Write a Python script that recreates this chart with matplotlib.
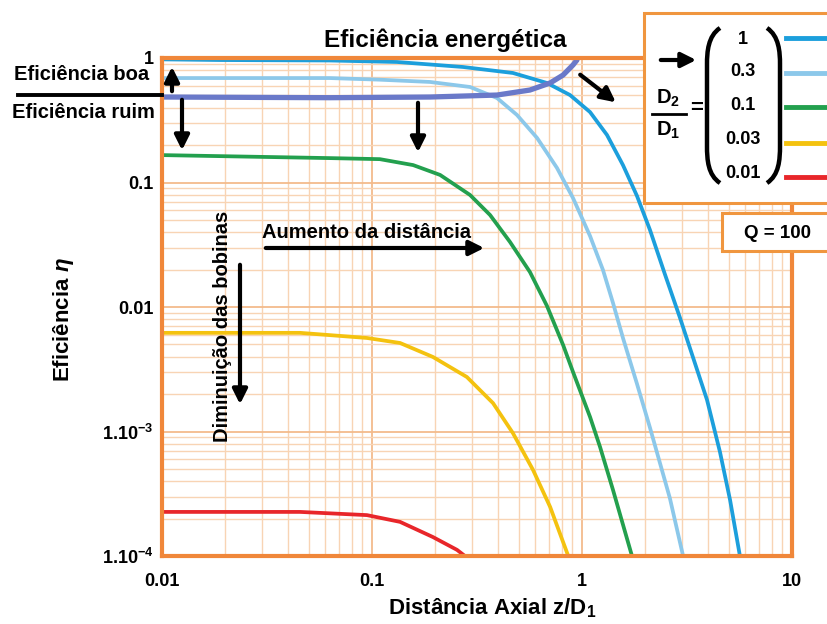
import matplotlib
matplotlib.use("Agg")
import matplotlib.pyplot as plt
from matplotlib.path import Path
import matplotlib.patches as patches

plt.rcParams['font.family'] = 'Liberation Sans'
plt.rcParams['font.weight'] = 'bold'
plt.rcParams['mathtext.fontset'] = 'custom'
plt.rcParams['mathtext.rm'] = 'Liberation Sans:bold'
plt.rcParams['mathtext.bf'] = 'Liberation Sans:bold'
plt.rcParams['mathtext.it'] = 'Liberation Sans:italic:bold'
plt.rcParams['mathtext.default'] = 'rm'

# curves, D2/D1 = 1, 0.3, 0.1, 0.03, 0.01
ratios = ['1', '0.3', '0.1', '0.03', '0.01']
colors = ['#1c9fdc', '#8cc8ea', '#23a04e', '#f4c20f', '#e8262a']

x_1 = [0.01, 0.0189, 0.0631, 0.1315, 0.271, 0.469, 0.681, 0.877, 1.092, 1.315, 1.567,
       1.828, 2.108, 2.48, 2.93, 3.94, 4.54, 5.07, 5.65]
y_1 = [0.975, 0.963, 0.955, 0.929, 0.847, 0.758, 0.630, 0.504, 0.368, 0.241, 0.138,
       0.0779, 0.0415, 0.0184, 0.00816, 0.00179, 0.000684, 0.000282, 0.0001]

x_03 = [0.01, 0.0631, 0.108, 0.189, 0.293, 0.394, 0.490, 0.611, 0.760, 0.906, 1.092,
        1.259, 1.405, 1.567, 1.828, 2.108, 2.62, 3.03]
y_03 = [0.69, 0.69, 0.67, 0.642, 0.585, 0.477, 0.349, 0.228, 0.131, 0.0751, 0.0372,
        0.0198, 0.01077, 0.00564, 0.00241, 0.00107, 0.000292, 0.0001]

x_01 = [0.01, 0.0631, 0.109, 0.157, 0.211, 0.293, 0.365, 0.454, 0.565, 0.681, 0.813,
        0.906, 1.092, 1.219, 1.405, 1.73]
y_01 = [0.166, 0.157, 0.154, 0.138, 0.115, 0.0794, 0.0548, 0.0333, 0.0191, 0.0102, 0.00495,
        0.00301, 0.00131, 0.000751, 0.000339, 0.0001]

x_003 = [0.01, 0.029, 0.0454, 0.0946, 0.136, 0.195, 0.283, 0.377, 0.469, 0.585, 0.705, 0.86]
y_003 = [0.0062, 0.0062, 0.0062, 0.00564, 0.00514, 0.00397, 0.00274, 0.00169, 0.00097,
         0.00049, 0.000248, 0.0001]

x_001 = [0.01, 0.0454, 0.0946, 0.136, 0.195, 0.254, 0.277]
y_001 = [0.000226, 0.000226, 0.000213, 0.000188, 0.000142, 0.000112, 0.0001]

# "Eficiência energética" boundary curve
x_en = [0.01, 0.0631, 0.189, 0.394, 0.565, 0.705, 0.813, 0.906, 0.946]
y_en = [0.486, 0.480, 0.486, 0.504, 0.553, 0.630, 0.730, 0.879, 0.963]

xticks = [0.01, 0.1, 1, 10]
xticklabels = ['0.01', '0.1', '1', '10']
yticks = [1e-4, 1e-3, 0.01, 0.1, 1]
yticklabels = ['1.10$^{-4}$', '1.10$^{-3}$', '0.01', '0.1', '1']

W, H = 827, 624
fig = plt.figure(figsize=(W / 100, H / 100), dpi=100)
ax = fig.add_axes([162 / W, 1 - 556 / H, 630 / W, 498 / H])


def fx(x):
    return x / W


def fy(y):
    return 1 - y / H


ax.set_xscale('log')
ax.set_yscale('log')
ax.set_xlim(0.01, 10)
ax.set_ylim(1e-4, 1)

ax.grid(True, which='major', color='#f3bb8c', lw=1.3)
ax.grid(True, which='minor', color='#f8d4b4', lw=1.0)
ax.set_axisbelow(True)

series = [(x_1, y_1), (x_03, y_03), (x_01, y_01), (x_003, y_003), (x_001, y_001)]
for (xs, ys), c in zip(series, colors):
    ax.plot(xs, ys, color=c, lw=2.7, solid_capstyle='round', solid_joinstyle='round')
ax.plot(x_en, y_en, color='#6a79c9', lw=3.8, solid_capstyle='round', solid_joinstyle='round')

for s in ax.spines.values():
    s.set_color('#f0873a')
    s.set_linewidth(3)

ax.set_xticks(xticks)
ax.set_xticklabels(xticklabels)
ax.set_yticks(yticks)
ax.set_yticklabels(yticklabels)
ax.tick_params(which='both', length=0)
ax.tick_params(axis='x', pad=12, labelsize=13)
ax.tick_params(axis='y', pad=6, labelsize=13)

fig.text(fx(63), fy(320), 'Eficiência $\\mathit{\\eta}$', rotation=90,
         ha='center', va='center', fontsize=16)
fig.text(fx(492), fy(608), 'Distância Axial z/D$_1$', ha='center', va='center', fontsize=16)
fig.text(fx(445), fy(40), 'Eficiência energética', ha='center', va='center', fontsize=17.5)

fig.text(fx(14), fy(75), 'Eficiência boa', ha='left', va='center', fontsize=14.5)
fig.text(fx(12), fy(113), 'Eficiência ruim', ha='left', va='center', fontsize=14.5)
fig.add_artist(plt.Line2D([fx(18), fx(162)], [fy(95), fy(95)], color='black', lw=2.8))

fig.text(fx(262), fy(232), 'Aumento da distância', ha='left', va='center', fontsize=14.5)
fig.text(fx(223), fy(326), 'Diminuição das bobinas', rotation=90, ha='center', va='center', fontsize=14.5)


def arrow(x0, y0, x1, y1):
    fig.add_artist(patches.FancyArrowPatch((fx(x0), fy(y0)), (fx(x1), fy(y1)),
                                           transform=fig.transFigure, arrowstyle='-|>',
                                           mutation_scale=22, lw=3, color='black'))


arrow(172, 94, 172, 64)
arrow(182, 97, 182, 153)
arrow(418, 100, 418, 155)
arrow(578, 73, 618, 104)
arrow(263, 248, 487, 248)
arrow(240, 262, 240, 407)

# legend box
fig.add_artist(patches.Rectangle((fx(644), fy(203)), fx(900) - fx(644), fy(13) - fy(203),
                                 transform=fig.transFigure, facecolor='white',
                                 edgecolor='#f0963f', lw=2.2))
fig.add_artist(patches.Rectangle((fx(722), fy(251)), fx(900) - fx(722), fy(213) - fy(251),
                                 transform=fig.transFigure, facecolor='white',
                                 edgecolor='#f0963f', lw=2.2))
fig.text(fx(778), fy(233), 'Q = 100', ha='center', va='center', fontsize=13.5)

arrow(658, 60, 699, 60)
fig.text(fx(668), fy(98), 'D$_2$', ha='center', va='center', fontsize=14.5)
fig.add_artist(plt.Line2D([fx(652), fx(686)], [fy(114), fy(114)], color='black', lw=2))
fig.text(fx(668), fy(130), 'D$_1$', ha='center', va='center', fontsize=14.5)
fig.text(fx(697), fy(108), '=', ha='center', va='center', fontsize=16)

# big parentheses
left_paren = Path([(720, fy(28) * H), (708, fy(36) * H), (707, fy(52) * H), (707, fy(64) * H),
                   (707, fy(146) * H),
                   (707, fy(160) * H), (708, fy(175) * H), (720, fy(183) * H)],
                  [Path.MOVETO, Path.CURVE4, Path.CURVE4, Path.CURVE4, Path.LINETO,
                   Path.CURVE4, Path.CURVE4, Path.CURVE4])
right_paren = Path([(767, fy(28) * H), (779, fy(36) * H), (780, fy(52) * H), (780, fy(64) * H),
                    (780, fy(146) * H),
                    (780, fy(160) * H), (779, fy(175) * H), (767, fy(183) * H)],
                   [Path.MOVETO, Path.CURVE4, Path.CURVE4, Path.CURVE4, Path.LINETO,
                    Path.CURVE4, Path.CURVE4, Path.CURVE4])
for p in (left_paren, right_paren):
    fig.add_artist(patches.PathPatch(p, transform=None, facecolor='none',
                                     edgecolor='black', lw=3.2))

val_y = [40, 72, 106, 139, 173]
line_y = [38, 73, 107, 143, 177]
for r, c, vy, ly in zip(ratios, colors, val_y, line_y):
    fig.text(fx(743), fy(vy), r, ha='center', va='center', fontsize=13)
    fig.add_artist(plt.Line2D([fx(786), fx(830)], [fy(ly), fy(ly)], color=c, lw=3.5))

fig.savefig('out.png', dpi=100)
